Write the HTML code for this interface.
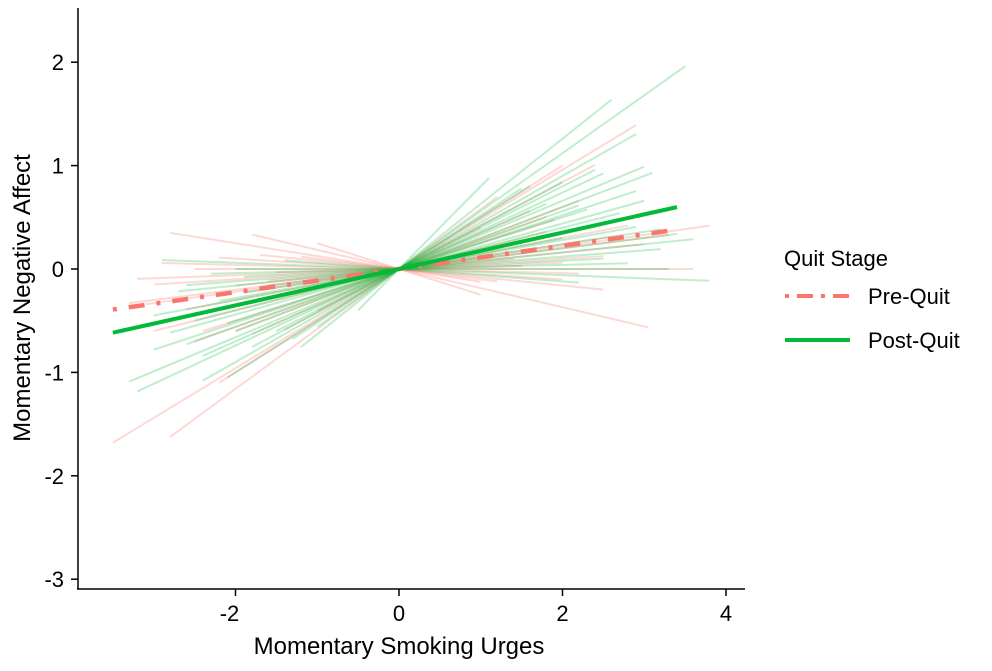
<!DOCTYPE html>
<html><head><meta charset="utf-8"><style>
body{margin:0;background:#fff;font-family:"Liberation Sans",sans-serif}
svg text{font-family:"Liberation Sans",sans-serif;fill:#000}
</style></head><body>
<svg id="chart" width="992" height="666" xmlns="http://www.w3.org/2000/svg">
<g id="lines"></g>
<line x1="78" y1="8" x2="78" y2="589" stroke="#000" stroke-width="1.5"/>
<line x1="77" y1="589" x2="745" y2="589" stroke="#000" stroke-width="1.5"/>
<g id="ticks"></g>
<text x="399" y="654" font-size="24" text-anchor="middle">Momentary Smoking Urges</text>
<text transform="translate(30,298) rotate(-90)" font-size="24" text-anchor="middle">Momentary Negative Affect</text>
<g>
<text x="784" y="266" font-size="22">Quit Stage</text>
<line x1="785" y1="296" x2="850" y2="296" stroke="#F8766D" stroke-width="4" stroke-dasharray="4,8,16,8"/>
<text x="868" y="304" font-size="22">Pre-Quit</text>
<line x1="785" y1="340" x2="850" y2="340" stroke="#00BA38" stroke-width="4"/>
<text x="868" y="348" font-size="22">Post-Quit</text>
</g>
</svg>
<script>
const xTicks=[-2,0,2,4];
const yTicks=[-3,-2,-1,0,1,2];
const preSlopes=[0.48,-0.125,-0.185,0.11,0.58,-0.25,0.3,0.2,0.05,0.0,0.02,-0.05,0.15,0.35,0.42,0.08,-0.1,0.25,0.12,0.03,0.4,0.18,-0.02,0.07,0.5,0.28,0.1,-0.08];
const preXmin=[-3.5,-2.8,-1.8,-3.1,-2.8,-1.0,-2.0,-3.0,-3.0,-2.5,-1.5,-2.2,-2.6,-1.8,-1.4,-2.0,-1.2,-2.4,-1.9,-3.2,-1.0,-2.3,-2.9,-1.6,-2.2,-2.5,-3.3,-1.7];
const preXmax=[2.9,1.0,3.05,3.8,1.2,1.0,2.2,1.8,2.5,3.6,1.5,2.0,2.8,1.6,2.4,3.0,1.2,1.9,2.6,2.0,1.0,3.2,2.2,1.4,2.0,1.8,3.3,2.5];
const postSlopes=[0.56,0.63,0.45,0.8,0.37,0.33,-0.03,0.06,0.25,0.2,0.15,0.1,0.5,0.42,0.3,0.02,-0.06,0.22,0.12,0.28,0.18,0.4,0.08,0.04,0.35,0.14,0.52,0.26,0.0,0.17];
const postXmin=[-1.0,-1.2,-2.4,-0.5,-3.2,-3.3,-2.9,-2.6,-2.1,-2.5,-3.0,-1.6,-2.1,-1.8,-2.0,-2.3,-1.4,-2.8,-1.9,-2.6,-3.1,-1.5,-2.7,-1.9,-2.4,-2.2,-1.3,-3.0,-2.0,-1.7];
const postXmax=[3.5,2.6,2.9,1.1,2.5,3.0,3.8,3.2,2.3,2.7,2.0,3.4,1.6,2.0,3.1,2.8,2.2,3.0,3.2,2.2,1.9,2.4,3.6,2.5,1.8,2.9,1.5,2.9,3.3,2.4];
const meanSlopes=[0.112,0.176];
const meanXmin=[-3.5,-3.5];
const meanXmax=[3.4,3.4];
const sx=v=>399+v*81.75, sy=v=>269-v*103.4;
const NS='http://www.w3.org/2000/svg';
const g=document.getElementById('lines'), t=document.getElementById('ticks');
function ln(par,x1,y1,x2,y2,c,w,o,name){const l=document.createElementNS(NS,'line');
l.setAttribute('x1',x1);l.setAttribute('y1',y1);l.setAttribute('x2',x2);l.setAttribute('y2',y2);
l.setAttribute('stroke',c);l.setAttribute('stroke-width',w);l.setAttribute('stroke-opacity',o);


par.appendChild(l);return l;}
preSlopes.forEach((s,i)=>ln(g,sx(preXmin[i]),sy(s*preXmin[i]),sx(preXmax[i]),sy(s*preXmax[i]),'#F8766D',2,0.28,'pre-quit-individual-line'));
postSlopes.forEach((s,i)=>ln(g,sx(postXmin[i]),sy(s*postXmin[i]),sx(postXmax[i]),sy(s*postXmax[i]),'#00BA38',2,0.25,'post-quit-individual-line'));
const pm=ln(g,sx(meanXmin[0]),sy(meanSlopes[0]*meanXmin[0]),sx(meanXmax[0]),sy(meanSlopes[0]*meanXmax[0]),'#F8766D',4.5,1,'pre-quit-mean-line');
pm.setAttribute('stroke-dasharray','4,12,16,12');
ln(g,sx(meanXmin[1]),sy(meanSlopes[1]*meanXmin[1]),sx(meanXmax[1]),sy(meanSlopes[1]*meanXmax[1]),'#00BA38',4,1,'post-quit-mean-line');
xTicks.forEach(v=>{ln(t,sx(v),589,sx(v),596,'#000',1.5,1,'x-tick');
const e=document.createElementNS(NS,'text');e.setAttribute('x',sx(v)-(v<0?6:0));e.setAttribute('y',621);
e.setAttribute('font-size','22');e.setAttribute('text-anchor','middle');e.textContent=v<0?'-'+Math.abs(v):v;


t.appendChild(e);});
yTicks.forEach(v=>{ln(t,71,sy(v),78,sy(v),'#000',1.5,1,'y-tick');
const e=document.createElementNS(NS,'text');e.setAttribute('x',64);e.setAttribute('y',sy(v)+8);
e.setAttribute('font-size','22');e.setAttribute('text-anchor','end');e.textContent=v<0?'-'+Math.abs(v):v;


t.appendChild(e);});
</script>
</body></html>
